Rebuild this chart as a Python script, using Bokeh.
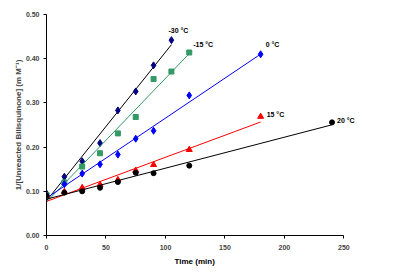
import numpy as np
from bokeh.plotting import figure
from bokeh.models import Range1d, FixedTicker, NumeralTickFormatter, Title
from bokeh.core.properties import value
from bokeh.embed import file_html
from bokeh.resources import INLINE

# Data
t_m30 = [0, 15, 30, 45, 60, 75, 90, 105]
y_m30 = [0.095, 0.133, 0.168, 0.209, 0.283, 0.326, 0.385, 0.442]

t_m15 = [0, 15, 30, 45, 60, 75, 90, 105, 120]
y_m15 = [0.092, 0.120, 0.156, 0.186, 0.231, 0.268, 0.354, 0.371, 0.414]

t_0 = [0, 15, 30, 45, 60, 75, 90, 120, 180]
y_0 = [0.091, 0.116, 0.140, 0.161, 0.183, 0.219, 0.237, 0.317, 0.410]

t_15 = [0, 15, 30, 45, 60, 75, 90, 120, 180]
y_15 = [0.090, 0.099, 0.108, 0.115, 0.126, 0.147, 0.160, 0.194, 0.269]

t_20 = [0, 15, 30, 45, 60, 75, 90, 120, 240]
y_20 = [0.090, 0.097, 0.100, 0.108, 0.121, 0.142, 0.141, 0.158, 0.256]

series_labels = ["-30 °C", "-15 °C", "0 °C", "15 °C", "20 °C"]
x_ticks = [0, 50, 100, 150, 200, 250]
y_ticks = [0.0, 0.1, 0.2, 0.3, 0.4, 0.5]

FONT = "Liberation Sans"

# x range extended past 250 so the series labels at the right are not clipped;
# the visible axis is bounded to 0..250
p = figure(width=398, height=269, output_backend="svg", toolbar_location=None,
           x_range=Range1d(0, 290), y_range=Range1d(0, 0.5),
           min_border_left=46, min_border_top=14, min_border_right=7, min_border_bottom=34)
p.outline_line_color = None
p.xgrid.grid_line_color = None
p.ygrid.grid_line_color = None
p.background_fill_color = "white"

series = [
    (t_m30, y_m30, "black", "#000080", "diamond", 7),
    (t_m15, y_m15, "#339966", "#339966", "square", 5),
    (t_0, y_0, "#0000FF", "#0000FF", "diamond", 7),
    (t_15, y_15, "#FF0000", "#FF0000", "triangle", 6),
    (t_20, y_20, "black", "black", "circle", 5),
]
offsets = [(-3, -10), (4, -8), (5, -10), (6, -2), (5, -2)]

for (tx, ty, lc, mc, mk, ms), lab, (ox, oy) in zip(series, series_labels, offsets):
    tx = np.array(tx, dtype=float)
    ty = np.array(ty, dtype=float)
    m, b = np.polyfit(tx, ty, 1)
    xs = np.array([0.0, tx.max()])
    p.line(xs, m * xs + b, line_color=lc, line_width=1)
    p.scatter(tx, ty, marker=mk, size=ms, fill_color=mc, line_color=mc)
    p.text(x=[tx[-1]], y=[ty[-1]], text=[lab], x_offset=ox, y_offset=oy,
           text_font=value(FONT), text_font_style="bold", text_font_size="7px",
           text_color="black", text_baseline="middle", text_align="left")

for ax in (p.xaxis[0], p.yaxis[0]):
    ax.axis_line_color = "black"
    ax.major_tick_line_color = "black"
    ax.minor_tick_line_color = None
    ax.major_tick_out = 3
    ax.major_tick_in = 0
    ax.major_label_text_font = FONT
    ax.major_label_text_font_style = "bold"
    ax.major_label_text_font_size = "7px"
    ax.axis_label_text_font = FONT
    ax.axis_label_text_font_style = "bold"
    ax.axis_label_text_font_size = "8px"

p.xaxis.bounds = (0, 250)
p.xaxis.ticker = FixedTicker(ticks=x_ticks)
p.yaxis.ticker = FixedTicker(ticks=y_ticks)
p.yaxis.formatter = NumeralTickFormatter(format="0.00")
p.xaxis.major_label_standoff = 6
p.yaxis.major_label_standoff = 4
p.yaxis.axis_label = "1/[Unreacted Bilisquinone] (m M⁻¹)"
p.yaxis.axis_label_standoff = 0

# x axis title, centred under the 0..250 part of the axis
p.add_layout(Title(text="Time (min)", align="left", offset=128, standoff=4,
                   text_font=FONT, text_font_style="bold", text_font_size="8px",
                   text_color="black"), "below")

open("out.html", "w").write(file_html(p, INLINE))
